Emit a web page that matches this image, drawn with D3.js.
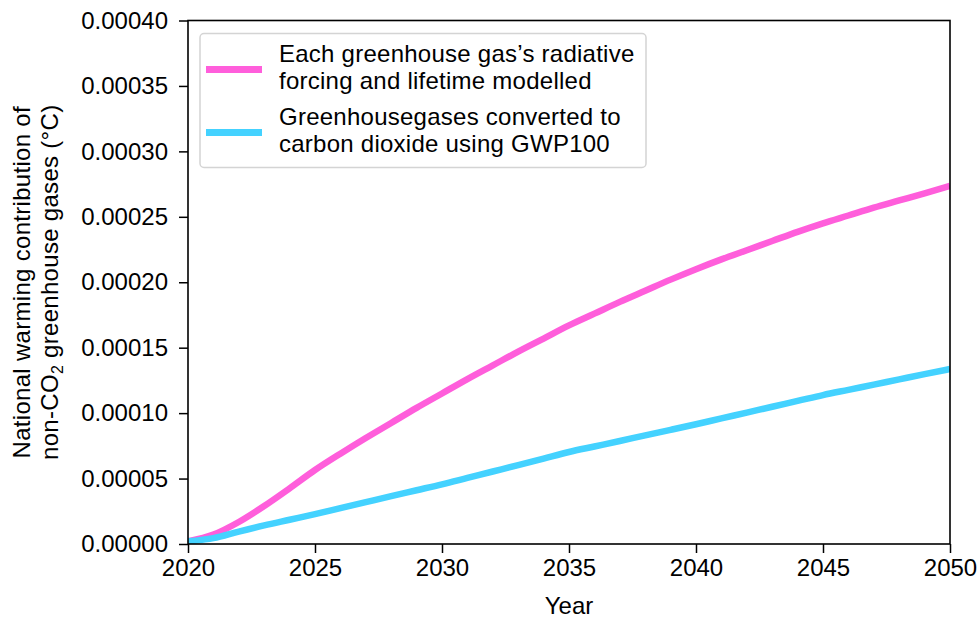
<!DOCTYPE html>
<html>
<head>
<meta charset="utf-8">
<script src="https://cdn.jsdelivr.net/npm/d3@7/dist/d3.min.js"></script>
<style>
  html, body { margin: 0; padding: 0; background: #fff; }
  svg { display: block; font-family: "Liberation Sans", Arial, Helvetica, sans-serif; }
</style>
</head>
<body>
<svg id="chart" width="979" height="618"></svg>
<script>
// Years simulated
const years = d3.range(2020, 2051);

// Warming (°C) with each gas's radiative forcing and lifetime modelled
const modelledWarming = [
  0.0000020, 0.0000072, 0.0000168, 0.0000290, 0.0000425, 0.0000565,
  0.0000690, 0.0000810, 0.0000925, 0.0001040, 0.0001150,
  0.0001260, 0.0001365, 0.0001470, 0.0001570, 0.0001670,
  0.0001760, 0.0001850, 0.0001935, 0.0002020, 0.0002100,
  0.0002175, 0.0002245, 0.0002315, 0.0002385, 0.0002450,
  0.0002510, 0.0002570, 0.0002625, 0.0002680, 0.0002737
];

// Warming (°C) with gases converted to CO2 using GWP100
const gwp100Warming = [
  0.0000020, 0.0000045, 0.0000095, 0.0000142, 0.0000185, 0.0000228,
  0.0000274, 0.0000320, 0.0000366, 0.0000411, 0.0000456,
  0.0000505, 0.0000554, 0.0000603, 0.0000653, 0.0000703,
  0.0000745, 0.0000787, 0.0000830, 0.0000872, 0.0000915,
  0.0000960, 0.0001004, 0.0001049, 0.0001093, 0.0001138,
  0.0001178, 0.0001218, 0.0001258, 0.0001298, 0.0001337
];

const xTicks = [2020, 2025, 2030, 2035, 2040, 2045, 2050];
const yTicks = [0, 0.00005, 0.0001, 0.00015, 0.0002, 0.00025, 0.0003, 0.00035, 0.0004];

const seriesNames = [
  ["Each greenhouse gas\u2019s radiative", "forcing and lifetime modelled"],
  ["Greenhousegases converted to", "carbon dioxide using GWP100"]
];
const seriesColors = ["#ff5edb", "#44d2ff"];

const svg = d3.select("#chart");
const margin = { left: 188, right: 29, top: 20.5, bottom: 74 };
const W = 979, H = 618;
const plotW = W - margin.left - margin.right;
const plotH = H - margin.top - margin.bottom;

const x = d3.scaleLinear().domain([2020, 2050]).range([0, plotW]);
const y = d3.scaleLinear().domain([0, 0.0004]).range([plotH, 0]);

const g = svg.append("g").attr("transform", `translate(${margin.left},${margin.top})`);

g.append("clipPath").attr("id", "plotclip")
  .append("rect").attr("width", plotW).attr("height", plotH);

const line = d3.line()
  .x((d, i) => x(years[i]))
  .y(d => y(d))
  .curve(d3.curveMonotoneX);

const lines = g.append("g").attr("clip-path", "url(#plotclip)");
[modelledWarming, gwp100Warming].forEach((vals, k) => {
  lines.append("path")
    .datum(vals)
    .attr("fill", "none")
    .attr("stroke", seriesColors[k])
    .attr("stroke-width", 6.5)
    .attr("stroke-linejoin", "round")
    .attr("d", line);
});

// Axes
const fs = 24;
const xAxis = g.append("g")
  .attr("transform", `translate(0,${plotH})`)
  .call(d3.axisBottom(x).tickValues(xTicks).tickFormat(d3.format("d")).tickSize(9).tickPadding(6));
const yAxis = g.append("g")
  .call(d3.axisLeft(y).tickValues(yTicks).tickFormat(d3.format(".5f")).tickSize(9).tickPadding(11));

[xAxis, yAxis].forEach(ax => {
  ax.select(".domain").remove();
  ax.selectAll(".tick line").attr("stroke", "#000").attr("stroke-width", 1.5);
  ax.selectAll(".tick text").attr("fill", "#000").style("font-size", fs + "px");
});

// Frame
g.append("rect")
  .attr("width", plotW).attr("height", plotH)
  .attr("fill", "none").attr("stroke", "#000").attr("stroke-width", 1.6);

// Axis titles
svg.append("text")
  .attr("x", margin.left + plotW / 2).attr("y", 614)
  .attr("text-anchor", "middle").style("font-size", fs + "px")
  .text("Year");

const yl = svg.append("text")
  .attr("transform", `translate(0,${margin.top + plotH / 2}) rotate(-90)`)
  .attr("text-anchor", "middle").style("font-size", fs + "px")
  .style("letter-spacing", "0.3px");
yl.append("tspan").attr("x", 0).attr("y", 30).text("National warming contribution of");
const t2 = yl.append("tspan").attr("x", 0).attr("y", 58);
t2.append("tspan").text("non-CO");
t2.append("tspan").attr("dy", 5).style("font-size", "16px").text("2");
t2.append("tspan").attr("dy", -5).text(" greenhouse gases (°C)");

// Legend
const leg = g.append("g").attr("transform", `translate(${200 - margin.left},${33.5 - margin.top})`);
leg.append("rect")
  .attr("width", 446).attr("height", 134).attr("rx", 4)
  .attr("fill", "#fff").attr("fill-opacity", 0.8)
  .attr("stroke", "#d4d4d4").attr("stroke-width", 1.5);
seriesNames.forEach((lines2, k) => {
  const cy = 36 + k * 63;
  leg.append("line")
    .attr("x1", 6).attr("x2", 62).attr("y1", cy).attr("y2", cy)
    .attr("stroke", seriesColors[k]).attr("stroke-width", 7);
  lines2.forEach((s, j) => {
    leg.append("text")
      .attr("x", 79).attr("y", 28 + k * 63 + j * 27)
      .style("font-size", fs + "px")
      .style("letter-spacing", "0.25px")
      .text(s);
  });
});
</script>
</body>
</html>
